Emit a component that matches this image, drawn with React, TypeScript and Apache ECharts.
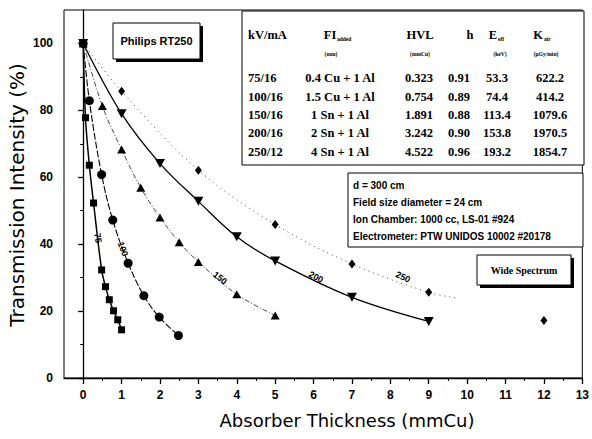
import React, { useEffect, useRef } from "react";
import * as echarts from "echarts";

// Transmission (%) versus absorber thickness (mmCu) for each tube setting
const thickness75 = [0, 0.06, 0.16, 0.27, 0.48, 0.58, 0.68, 0.79, 0.9, 1.0];
const transmission75 = [100, 77.8, 63.6, 52.3, 32.3, 27.3, 23.4, 20.1, 17.4, 14.4];

const thickness100 = [0, 0.16, 0.48, 0.77, 1.17, 1.58, 1.98, 2.48];
const transmission100 = [100, 82.9, 60.8, 47.2, 34.3, 24.6, 18.2, 12.7];

const thickness150 = [0, 0.5, 1, 1.5, 2, 2.5, 3, 4, 5];
const transmission150 = [100, 81.3, 68.3, 56.9, 48.0, 40.6, 34.7, 25.0, 18.7];

const thickness200 = [0, 1, 2, 3, 4, 5, 7, 9];
const transmission200 = [100, 79.0, 64.1, 52.8, 42.2, 35.0, 24.1, 16.9];

const thickness250 = [0, 1, 3, 5, 7, 9, 12];
const transmission250 = [100, 85.7, 62.1, 45.9, 34.1, 25.6, 17.2];

// dotted 250 kV curve stops short of the 12 mm measurement
const curve250Thickness = [0, 1, 3, 5, 7, 9, 9.8];
const curve250Transmission = [100, 85.7, 62.1, 45.9, 34.1, 25.6, 23.8];

// axis ticks
const xTickValues = [0, 1, 2, 3, 4, 5, 6, 7, 8, 9, 10, 11, 12, 13];
const xMinorValues = [0.5, 1.5, 2.5, 3.5, 4.5, 5.5, 6.5, 7.5, 8.5, 9.5, 10.5, 11.5, 12.5];
const yTickValues = [0, 20, 40, 60, 80, 100];
const yMinorValues = [10, 30, 50, 70, 90];

// beam quality table
const tableSettings = ["75/16", "100/16", "150/16", "200/16", "250/12"];
const tableFilters = ["0.4 Cu + 1 Al", "1.5 Cu + 1 Al", "1 Sn + 1 Al", "2 Sn + 1 Al", "4 Sn + 1 Al"];
const tableHVL = ["0.323", "0.754", "1.891", "3.242", "4.522"];
const tableH = ["0.91", "0.89", "0.88", "0.90", "0.96"];
const tableEeff = ["53.3", "74.4", "113.4", "153.8", "193.2"];
const tableKair = ["622.2", "414.2", "1079.6", "1970.5", "1854.7"];

const setupNotes = [
  "d = 300 cm",
  "Field size diameter = 24 cm",
  "Ion Chamber: 1000 cc, LS-01 #924",
  "Electrometer: PTW UNIDOS 10002 #20178",
];

const pairs = (xs: number[], ys: number[]) => xs.map((x, i) => [x, ys[i]]);

const SANS = "'Liberation Sans', Arial, sans-serif";
const SERIF = "'Liberation Serif', 'Times New Roman', serif";

function txt(
  text: string,
  x: number,
  y: number,
  font: string,
  align: string = "center",
  rotation = 0,
  fill = "#000"
) {
  return {
    type: "text",
    x,
    y,
    rotation,
    z: 120,
    style: {
      text,
      font,
      fill,
      align,
      verticalAlign: "middle",
      textAlign: align,
      textVerticalAlign: "middle",
    },
  };
}

function shadowBox(x: number, y: number, w: number, h: number, off: number) {
  return [
    { type: "rect", z: 100, shape: { x: x + off, y: y + off, width: w, height: h }, style: { fill: "#000" } },
    { type: "rect", z: 101, shape: { x, y, width: w, height: h }, style: { fill: "#fff", stroke: "#000", lineWidth: 1 } },
  ];
}

export default function App() {
  const ref = useRef<HTMLDivElement>(null);

  useEffect(() => {
    if (!ref.current) return;
    const chart = echarts.init(ref.current, undefined, { renderer: "svg" });

    const rowY = [78, 96.5, 115, 133.3, 151.7];
    const rowFont = `bold 12.5px ${SERIF}`;
    const tableTexts: any[] = [];
    tableSettings.forEach((s, i) => {
      tableTexts.push(txt(s, 248, rowY[i], rowFont, "left"));
      tableTexts.push(txt(tableFilters[i], 340, rowY[i], rowFont));
      tableTexts.push(txt(tableHVL[i], 419, rowY[i], rowFont));
      tableTexts.push(txt(tableH[i], 459, rowY[i], rowFont));
      tableTexts.push(txt(tableEeff[i], 497, rowY[i], rowFont));
      tableTexts.push(txt(tableKair[i], 550, rowY[i], rowFont));
    });
    const headFont = `bold 12.5px ${SERIF}`;
    const subFont = `bold 5.5px ${SERIF}`;
    tableTexts.push(
      txt("kV/mA", 248, 35, headFont, "left"),
      txt("FI", 330, 35, headFont),
      txt("added", 337, 38.5, subFont, "left"),
      txt("HVL", 420, 35, headFont),
      txt("h", 470, 35, headFont),
      txt("E", 493, 35, headFont),
      txt("eff", 498, 38.5, subFont, "left"),
      txt("K", 538, 35, headFont),
      txt("air", 544, 38.5, subFont, "left"),
      txt("(mm)", 331, 54, subFont),
      txt("(mmCu)", 420, 54, subFont),
      txt("(keV)", 500, 54, subFont),
      txt("(µGy/min)", 546, 54, subFont)
    );

    const curveLabelFont = `bold 9px ${SANS}`;
    const deg = Math.PI / 180;

    const commonSeries = {
      type: "line",
      smooth: 0.35,
      showSymbol: true,
      itemStyle: { color: "#000", opacity: 1 },
      z: 3,
    };

    chart.setOption({
      animation: false,
      grid: {
        left: 64,
        right: 5,
        top: 10,
        bottom: 61,
        show: true,
        borderColor: "#000",
        borderWidth: 1,
      },
      xAxis: [
        {
          type: "value",
          min: -0.5,
          max: 13,
          axisLine: { lineStyle: { color: "#000", width: 1.3 } },
          splitLine: { show: false },
          axisTick: { customValues: xTickValues, length: 6, lineStyle: { color: "#000", width: 1.3 } },
          axisLabel: {
            customValues: xTickValues,
            margin: 11,
            color: "#000",
            fontFamily: SANS,
            fontSize: 12,
            fontWeight: "bold",
          },
        },
        {
          type: "value",
          min: -0.5,
          max: 13,
          position: "bottom",
          axisLine: { show: false },
          splitLine: { show: false },
          axisTick: { customValues: xMinorValues, length: 3, lineStyle: { color: "#000", width: 1 } },
          axisLabel: { show: false },
        },
      ],
      yAxis: [
        {
          type: "value",
          min: 0,
          max: 110,
          axisLine: { show: true, lineStyle: { color: "#000", width: 1.3 } },
          splitLine: { show: false },
          axisTick: { customValues: yTickValues, length: 5, lineStyle: { color: "#000", width: 1.3 } },
          axisLabel: {
            customValues: yTickValues,
            margin: 11,
            color: "#000",
            fontFamily: SANS,
            fontSize: 12,
            fontWeight: "bold",
          },
        },
        {
          type: "value",
          min: 0,
          max: 110,
          position: "left",
          axisLine: { show: false },
          splitLine: { show: false },
          axisTick: { customValues: yMinorValues, length: 3, lineStyle: { color: "#000", width: 1 } },
          axisLabel: { show: false },
        },
      ],
      series: [
        {
          ...commonSeries,
          name: "75 kV",
          data: pairs(thickness75, transmission75),
          symbol: "rect",
          symbolSize: 7,
          lineStyle: { color: "#000", width: 1.5 },
        },
        {
          ...commonSeries,
          name: "100 kV",
          data: pairs(thickness100, transmission100),
          symbol: "circle",
          symbolSize: 9,
          lineStyle: { color: "#000", width: 1.1, type: [7, 2] },
        },
        {
          ...commonSeries,
          name: "150 kV",
          data: pairs(thickness150, transmission150),
          symbol: "triangle",
          symbolSize: [9, 8],
          lineStyle: { color: "#333", width: 0.9, type: [5, 2, 1, 2] },
        },
        {
          ...commonSeries,
          name: "200 kV",
          data: pairs(thickness200, transmission200),
          symbol: "triangle",
          symbolRotate: 180,
          symbolSize: [10, 9],
          lineStyle: { color: "#000", width: 1.3 },
        },
        {
          ...commonSeries,
          name: "250 kV fit",
          data: pairs(curve250Thickness, curve250Transmission),
          showSymbol: false,
          symbol: "none",
          lineStyle: { color: "#444", width: 1, type: [1, 4] },
        },
        {
          type: "scatter",
          name: "250 kV",
          data: pairs(thickness250, transmission250),
          symbol: "diamond",
          symbolSize: [7, 9],
          itemStyle: { color: "#000", opacity: 1 },
          z: 4,
        },
      ],
      graphic: [
        // axis titles
        txt("Transmission Intensity (%)", 17, 195, `20px 'DejaVu Sans', sans-serif`, "center", Math.PI / 2),
        txt("Absorber Thickness (mmCu)", 347, 420, `18px 'DejaVu Sans', sans-serif`),

        // curve labels
        txt("75", 98, 238, curveLabelFont, "center", -82 * deg),
        txt("100", 123, 249, curveLabelFont, "center", -70 * deg),
        txt("150", 220, 278, curveLabelFont, "center", -38 * deg),
        txt("200", 316, 277, curveLabelFont, "center", -28 * deg),
        txt("250", 403, 277, curveLabelFont, "center", -25 * deg),

        // machine label
        ...shadowBox(113, 23, 87, 36, 3),
        txt("Philips RT250", 156.5, 41, `bold 11px ${SANS}`),

        // beam quality table
        {
          type: "rect",
          z: 99,
          shape: { x: 242, y: 11, width: 342, height: 154 },
          style: { fill: "#fff", stroke: "#000", lineWidth: 1 },
        },
        ...tableTexts,

        // measurement setup
        {
          type: "rect",
          z: 99,
          shape: { x: 348, y: 173, width: 235, height: 74 },
          style: { fill: "#fff", stroke: "#000", lineWidth: 1 },
        },
        ...setupNotes.map((t, i) => txt(t, 353, 185 + i * 17, `bold 10px ${SANS}`, "left")),

        // spectrum label
        ...shadowBox(477, 255, 94, 30, 3),
        txt("Wide Spectrum", 524, 270, `bold 10px ${SERIF}`),
      ],
    });

    return () => chart.dispose();
  }, []);

  return (
    <div
      ref={ref}
      style={{ position: "absolute", left: 0, top: 0, width: 592, height: 439, background: "#fff" }}
    />
  );
}
